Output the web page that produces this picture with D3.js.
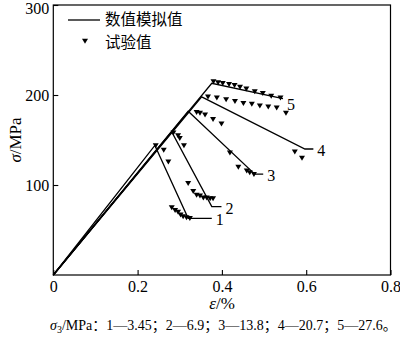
<!DOCTYPE html>
<html>
<head>
<meta charset="utf-8">
<script src="https://cdn.jsdelivr.net/npm/d3@7"></script>
<style>
  html, body { margin: 0; padding: 0; background: #fff; }
  svg { display: block; }
  text { fill: #000; }
</style>
</head>
<body>
<svg id="chart" width="400" height="338"></svg>
<script>
// Axis ticks
const xTicks = [0, 0.2, 0.4, 0.6, 0.8];
const yTicks = [100, 200, 300];

// Confining pressure labels for each curve
const curveLabels = ["1", "2", "3", "4", "5"];

// Simulated stress–strain curves: [strain %, stress MPa]
const simCurve1 = [[0, 0], [0.241, 144], [0.320, 63], [0.376, 63]];
const simCurve2 = [[0, 0], [0.281, 159], [0.376, 76], [0.399, 76]];
const simCurve3 = [[0, 0], [0.320, 182], [0.478, 112], [0.498, 112]];
const simCurve4 = [[0, 0], [0.352, 198], [0.597, 140], [0.617, 140]];
const simCurve5 = [[0, 0], [0.376, 213], [0.545, 196]];

// Laboratory test points: [strain %, stress MPa]
const testCurve1 = [[0.243, 144], [0.262, 139], [0.273, 126], [0.281, 75], [0.289, 72],
  [0.296, 70], [0.302, 67], [0.308, 65], [0.316, 64], [0.324, 63]];
const testCurve2 = [[0.285, 158], [0.296, 155], [0.300, 152], [0.310, 144], [0.320, 102],
  [0.332, 93], [0.340, 89], [0.348, 88], [0.356, 86], [0.364, 86], [0.372, 85], [0.379, 85]];
const testCurve3 = [[0.340, 181], [0.348, 180], [0.360, 178], [0.379, 173], [0.399, 168],
  [0.419, 136], [0.439, 120], [0.459, 116], [0.466, 114], [0.476, 112]];
const testCurve4 = [[0.367, 198], [0.388, 197], [0.410, 195], [0.431, 193], [0.451, 191],
  [0.471, 190], [0.490, 188], [0.510, 187], [0.530, 186], [0.552, 180], [0.573, 137], [0.590, 130]];
const testCurve5 = [[0.380, 215], [0.391, 214], [0.402, 213], [0.417, 212], [0.430, 211],
  [0.443, 209], [0.458, 207], [0.478, 204], [0.497, 202], [0.517, 199], [0.539, 197]];

const simCurves = [simCurve1, simCurve2, simCurve3, simCurve4, simCurve5];
const testCurves = [testCurve1, testCurve2, testCurve3, testCurve4, testCurve5];

const serif = "'Liberation Serif', 'Times New Roman', serif";
const cjk = "'Noto Sans CJK SC', sans-serif";

const svg = d3.select("#chart");
const plot = { left: 53.3, right: 390.5, top: 5, bottom: 275 };

const x = d3.scaleLinear().domain([0, 0.8]).range([plot.left, plot.right]);
const y = d3.scaleLinear().domain([0, 300]).range([plot.bottom, plot.top]);

// Frame
svg.append("rect")
  .attr("x", plot.left).attr("y", plot.top)
  .attr("width", plot.right - plot.left).attr("height", plot.bottom - plot.top)
  .attr("fill", "none").attr("stroke", "#000").attr("stroke-width", 1.2);

// Bottom axis with inward ticks
const xAxis = d3.axisBottom(x).tickValues(xTicks).tickSizeInner(-5).tickSizeOuter(0)
  .tickPadding(6).tickFormat(d => d === 0 ? "0" : d3.format(".1f")(d));
const gx = svg.append("g").attr("transform", `translate(0,${plot.bottom})`).call(xAxis);
gx.attr("font-family", null).attr("font-size", null);
gx.select(".domain").remove();
gx.selectAll("line").attr("stroke", "#000").attr("stroke-width", 1.1);
gx.selectAll("text").style("font-family", serif).style("font-size", "16px").attr("fill", "#000");

// Left axis with inward ticks
const yAxis = d3.axisLeft(y).tickValues(yTicks).tickSizeInner(-5).tickSizeOuter(0)
  .tickPadding(4).tickFormat(d3.format("d"));
const gy = svg.append("g").attr("transform", `translate(${plot.left},0)`).call(yAxis);
gy.attr("font-family", null).attr("font-size", null);
gy.select(".domain").remove();
gy.selectAll("line").attr("stroke", "#000").attr("stroke-width", 1.1);
gy.selectAll("text").style("font-family", serif).style("font-size", "16px").attr("fill", "#000")
  .attr("dy", d => d === 300 ? "0.5em" : "0.32em");

// Axis titles
const xt = svg.append("text")
  .attr("x", 222).attr("y", 309)
  .attr("text-anchor", "middle")
  .style("font-family", serif).style("font-size", "17px");
xt.append("tspan").attr("font-style", "italic").text("ε");
xt.append("tspan").text("/%");

const yt = svg.append("text")
  .attr("transform", "translate(21,140) rotate(-90)")
  .attr("text-anchor", "middle")
  .style("font-family", serif).style("font-size", "17px");
yt.append("tspan").attr("font-style", "italic").text("σ");
yt.append("tspan").text("/MPa");

// Simulated curves
const line = d3.line().x(d => x(d[0])).y(d => y(d[1]));
svg.append("g").selectAll("path")
  .data(simCurves)
  .join("path")
  .attr("d", line)
  .attr("fill", "none")
  .attr("stroke", "#000")
  .attr("stroke-width", 1.3)
  .attr("stroke-linejoin", "miter");

// Downward triangle marker
const tri = "M-3,-2.2L3,-2.2L0,2.8Z";

svg.append("g").selectAll("g")
  .data(testCurves)
  .join("g")
  .selectAll("path")
  .data(d => d)
  .join("path")
  .attr("d", tri)
  .attr("transform", d => `translate(${x(d[0])},${y(d[1])})`)
  .attr("fill", "#000");

// Curve number labels at the end of each simulated curve
svg.append("g").selectAll("text")
  .data(simCurves)
  .join("text")
  .attr("x", d => x(d[d.length - 1][0]) + 4)
  .attr("y", (d, i) => y(d[d.length - 1][1]) + (i === 4 ? 11 : 7))
  .style("font-family", serif).style("font-size", "16px")
  .text((d, i) => curveLabels[i]);

// Legend
const legend = svg.append("g");
legend.append("line")
  .attr("x1", 68).attr("x2", 100).attr("y1", 20).attr("y2", 20)
  .attr("stroke", "#000").attr("stroke-width", 1.3);
legend.append("text")
  .attr("x", 105).attr("y", 25)
  .style("font-family", cjk).style("font-size", "15.5px")
  .text("数值模拟值");
legend.append("path")
  .attr("d", tri)
  .attr("transform", "translate(85,41)")
  .attr("fill", "#000");
legend.append("text")
  .attr("x", 105).attr("y", 47.5)
  .style("font-family", cjk).style("font-size", "15.5px")
  .text("试验值");

// Caption with confining pressures
const cap = svg.append("text")
  .attr("x", 50).attr("y", 329.5)
  .style("font-family", serif).style("font-size", "14px");
cap.append("tspan").attr("font-style", "italic").text("σ");
cap.append("tspan").style("font-size", "10px").attr("dy", 3).text("3");
cap.append("tspan").attr("dy", -3).text("/MPa");
cap.append("tspan").style("font-family", cjk).text("：");
cap.append("tspan").text("1—3.45");
cap.append("tspan").style("font-family", cjk).text("；");
cap.append("tspan").text("2—6.9");
cap.append("tspan").style("font-family", cjk).text("；");
cap.append("tspan").text("3—13.8");
cap.append("tspan").style("font-family", cjk).text("；");
cap.append("tspan").text("4—20.7");
cap.append("tspan").style("font-family", cjk).text("；");
cap.append("tspan").text("5—27.6");
cap.append("tspan").style("font-family", cjk).text("。");
</script>
</body>
</html>
